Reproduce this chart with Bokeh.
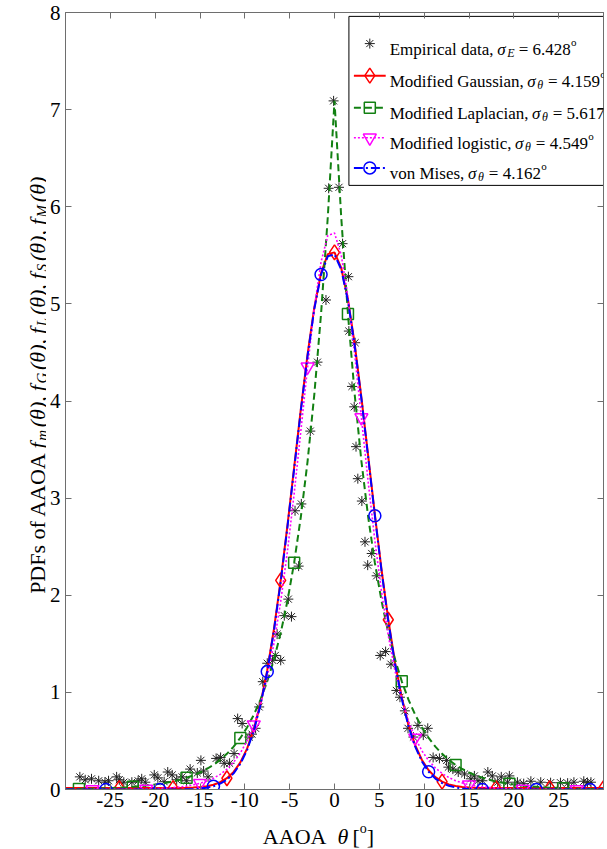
import math
from bokeh.plotting import figure
from bokeh.models import Label, LinearAxis, FixedTicker, Range1d
from bokeh.layouts import row, column
from bokeh.embed import file_html
from bokeh.resources import INLINE

# ---------------- data ----------------
theta = [-30, -29.25, -28.5, -27.75, -27, -26.25, -25.5, -24.75, -24, -23.25,
         -22.5, -21.75, -21, -20.25, -19.5, -18.75, -18, -17.25, -16.5, -15.75,
         -15, -14.25, -13.5, -12.75, -12, -11.25, -10.5, -9.75, -9, -8.25,
         -7.5, -6.75, -6, -5.25, -4.5, -3.75, -3, -2.25, -1.5, -0.75, 0,
         0.75, 1.5, 2.25, 3, 3.75, 4.5, 5.25, 6, 6.75, 7.5,
         8.25, 9, 9.75, 10.5, 11.25, 12, 12.75, 13.5, 14.25, 15,
         15.75, 16.5, 17.25, 18, 18.75, 19.5, 20.25, 21, 21.75, 22.5,
         23.25, 24, 24.75, 25.5, 26.25, 27, 27.75, 28.5, 29.25, 30]

pdf_gaussian = [0.015, 0.015, 0.015, 0.015, 0.015, 0.015, 0.015, 0.015, 0.015, 0.015,
                0.015, 0.015, 0.015, 0.015, 0.015, 0.015, 0.015, 0.015, 0.017, 0.020,
                0.025, 0.034, 0.049, 0.075, 0.116, 0.181, 0.279, 0.421, 0.620, 0.886,
                1.229, 1.654, 2.153, 2.716, 3.316, 3.920, 4.483, 4.963, 5.317, 5.512, 5.530,
                5.370, 5.045, 4.588, 4.037, 3.439, 2.834, 2.262, 1.748, 1.308, 0.949,
                0.667, 0.456, 0.304, 0.198, 0.127, 0.081, 0.053, 0.036, 0.026, 0.021,
                0.018, 0.016, 0.015, 0.015, 0.015, 0.015, 0.015, 0.015, 0.015, 0.015,
                0.015, 0.015, 0.015, 0.015, 0.015, 0.015, 0.015, 0.015, 0.015, 0.015]

pdf_laplacian = [0.004, 0.005, 0.006, 0.008, 0.009, 0.011, 0.013, 0.016, 0.019, 0.023,
                 0.028, 0.033, 0.040, 0.048, 0.058, 0.069, 0.083, 0.100, 0.121, 0.145,
                 0.175, 0.211, 0.253, 0.305, 0.367, 0.441, 0.531, 0.639, 0.769, 0.925,
                 1.114, 1.340, 1.612, 1.940, 2.335, 2.810, 3.381, 4.069, 4.896, 5.892, 7.090,
                 5.892, 4.896, 4.069, 3.381, 2.810, 2.335, 1.940, 1.612, 1.340, 1.114,
                 0.925, 0.769, 0.639, 0.531, 0.441, 0.367, 0.305, 0.253, 0.211, 0.175,
                 0.145, 0.121, 0.100, 0.083, 0.069, 0.058, 0.048, 0.040, 0.033, 0.028,
                 0.023, 0.019, 0.016, 0.013, 0.011, 0.009, 0.008, 0.006, 0.005, 0.004]

pdf_logistic = [0.000, 0.000, 0.000, 0.000, 0.001, 0.001, 0.001, 0.001, 0.002, 0.002,
                0.003, 0.004, 0.006, 0.008, 0.011, 0.014, 0.019, 0.026, 0.035, 0.048,
                0.064, 0.086, 0.116, 0.156, 0.209, 0.281, 0.376, 0.502, 0.667, 0.882,
                1.157, 1.506, 1.936, 2.452, 3.046, 3.694, 4.352, 4.959, 5.431, 5.704, 5.729,
                5.504, 5.065, 4.480, 3.829, 3.172, 2.565, 2.033, 1.585, 1.221, 0.931,
                0.705, 0.531, 0.398, 0.298, 0.222, 0.165, 0.123, 0.091, 0.068, 0.050,
                0.037, 0.028, 0.021, 0.015, 0.011, 0.008, 0.006, 0.005, 0.003, 0.003,
                0.002, 0.001, 0.001, 0.001, 0.001, 0.000, 0.000, 0.000, 0.000, 0.000]

pdf_vonmises = [0.0, 0.0, 0.0, 0.0, 0.0, 0.0, 0.0, 0.0, 0.0, 0.0,
                0.0, 0.0, 0.0, 0.0, 0.0, 0.0, 0.0, 0.0, 0.002, 0.005,
                0.010, 0.019, 0.034, 0.060, 0.101, 0.166, 0.264, 0.406, 0.605, 0.871,
                1.214, 1.639, 2.138, 2.701, 3.301, 3.905, 4.468, 4.948, 5.302, 5.490, 5.510,
                5.355, 5.030, 4.573, 4.022, 3.424, 2.819, 2.247, 1.733, 1.293, 0.934,
                0.652, 0.441, 0.289, 0.183, 0.112, 0.066, 0.038, 0.021, 0.011, 0.006,
                0.003, 0.001, 0.0, 0.0, 0.0, 0.0, 0.0, 0.0, 0.0, 0.0,
                0.0, 0.0, 0.0, 0.0, 0.0, 0.0, 0.0, 0.0, 0.0, 0.0]

marker_theta_gaussian = [-24, -18, -12, -6, 0, 6, 12, 18, 24, 30]
marker_theta_laplacian = [-28.5, -22.5, -16.5, -10.5, -4.5, 1.5, 7.5, 13.5, 19.5, 25.5]
marker_theta_logistic = [-27, -21, -15, -9, -3, 3, 9, 15, 21, 27]
marker_theta_vonmises = [-25.5, -19.5, -13.5, -7.5, -1.5, 4.5, 10.5, 16.5, 22.5, 28.5]

emp_theta = [-28.4, -27.8, -27.1, -26.3, -25.6, -25.2, -24.3, -24.0, -23.5, -22.6,
             -21.9, -21.5, -21.1, -20.1, -19.7, -19.0, -18.6, -18.1, -17.6, -17.0,
             -16.5, -16.1, -15.3, -14.9, -14.6, -14.1, -13.2, -12.7, -12.3, -11.7,
             -11.2, -10.8, -10.3, -9.5, -9.2, -8.8, -8.4, -8.0, -7.5, -6.9,
             -6.6, -6.4, -6.0, -5.6, -5.15, -4.8, -4.4, -4.0, -3.7, -2.7,
             -1.9, -0.95, -0.65, -0.1, 0.5, 0.9, 1.55, 1.6, 1.95, 2.2,
             2.3, 2.4, 2.6, 3.05, 3.4, 3.7, 4.15, 4.7, 5.1, 5.7,
             6.3, 6.9, 7.3, 7.85, 8.2, 8.8, 9.3, 9.9, 10.4, 11.0,
             11.7, 12.5, 12.7, 13.2, 13.8, 14.5, 15.2, 15.6, 16.0, 16.5,
             17.1, 17.6, 18.2, 18.6, 19.3, 19.5, 20.4, 21.1, 21.9, 23.0,
             24.1, 25.2, 26.0, 26.7, 27.8, 28.2, 28.6]
emp_pdf = [0.13, 0.10, 0.11, 0.09, 0.075, 0.09, 0.13, 0.10, 0.075, 0.075,
           0.09, 0.11, 0.075, 0.15, 0.12, 0.08, 0.18, 0.15, 0.10, 0.13,
           0.09, 0.21, 0.17, 0.30, 0.19, 0.13, 0.32, 0.33, 0.27, 0.27,
           0.37, 0.73, 0.68, 0.54, 0.57, 0.63, 0.85, 1.11, 1.30, 1.33,
           1.38, 1.60, 1.33, 1.79, 1.96, 1.78, 2.87, 2.30, 2.94, 3.69,
           4.40, 5.04, 6.19, 7.09, 6.20, 5.62, 5.28, 4.72, 4.15, 3.94,
           4.60, 3.53, 3.20, 2.97, 2.55, 2.31, 2.43, 2.20, 1.38, 1.42,
           1.29, 1.02, 0.95, 0.81, 0.63, 0.54, 0.66, 0.56, 0.63, 0.33,
           0.32, 0.30, 0.23, 0.21, 0.18, 0.16, 0.11, 0.14, 0.09, 0.09,
           0.18, 0.14, 0.075, 0.13, 0.075, 0.14, 0.075, 0.06, 0.085, 0.075,
           0.07, 0.07, 0.065, 0.075, 0.085, 0.07, 0.075]

x_ticks = [-25, -20, -15, -10, -5, 0, 5, 10, 15, 20, 25]
x_tick_labels = ["-25", "-20", "-15", "-10", "-5", "0", "5", "10", "15", "20", "25"]
y_ticks = [0, 1, 2, 3, 4, 5, 6, 7, 8]
y_tick_labels = ["0", "1", "2", "3", "4", "5", "6", "7", "8"]

legend_prefix = ["Empirical data, ", "Modified Gaussian, ", "Modified Laplacian, ",
                 "Modified logistic, ", "von Mises, "]
legend_sub = ["E", "\u03b8", "\u03b8", "\u03b8", "\u03b8"]
legend_value = ["6.428", "4.159", "5.617", "4.549", "4.162"]

# ---------------- layout (pixels) ----------------
PAGE_W, PAGE_H = 607, 849
YL_W = 46                      # strip holding the rotated y label
MAIN_W = PAGE_W - YL_W
ML, MR, MT, MB = 16, 4, 12, 28
FW, FH = MAIN_W - ML - MR, 777
MAIN_H = MT + FH + MB
XL_H = PAGE_H - MAIN_H         # strip holding the x label
XS = FW / 60.0
YS = FH / 8.0
FONT = "Liberation Serif"
AXIS_GRAY = "#6e6e6e"

REG = {' ': 250, '(': 333, ')': 333, ',': 250, '-': 333, '.': 250, '=': 564,
       '[': 333, ']': 333, 'A': 722, 'D': 722, 'E': 611, 'F': 556, 'G': 722,
       'L': 611, 'M': 889, 'O': 722, 'P': 556, 'S': 556,
       'a': 444, 'c': 444, 'd': 500, 'e': 444, 'f': 333, 'g': 500, 'i': 278,
       'l': 278, 'm': 778, 'n': 500, 'o': 500, 'p': 500, 'r': 333, 's': 389,
       't': 278, 'u': 500, 'v': 500}
ITA = {' ': 250, '(': 333, ')': 333, ',': 250, 'f': 278, 'm': 722, 'E': 611,
       'G': 722, 'L': 556, 'S': 500, 'M': 833, '\u03b8': 550, '\u03c3': 560}


def tw(s, size, italic=False):
    tab = ITA if italic else REG
    return sum(tab.get(ch, 500) for ch in s) * size / 1000.0


def lab(fig, x, y, text, size, italic=False, angle=0.0):
    fig.add_layout(Label(x=x, y=y, text=text, text_font=FONT,
                         text_font_size=f"{size}px",
                         text_font_style="italic" if italic else "normal",
                         text_baseline="alphabetic", text_align="left",
                         angle=angle, text_color="black"))


def blank(w, h):
    f = figure(width=w, height=h, x_range=Range1d(0, w), y_range=Range1d(0, h),
               output_backend="svg", toolbar_location=None, min_border=0,
               x_axis_type=None, y_axis_type=None)
    f.outline_line_color = None
    f.background_fill_color = "white"
    f.border_fill_color = "white"
    return f


p = figure(width=MAIN_W, height=MAIN_H, x_range=Range1d(-30, 30), y_range=Range1d(0, 8),
           output_backend="svg", toolbar_location=None,
           min_border_left=ML, min_border_right=MR, min_border_top=MT,
           min_border_bottom=MB)
p.grid.visible = False
p.outline_line_color = AXIS_GRAY
p.background_fill_color = "white"
p.border_fill_color = "white"


def style_axis(ax, ticks, labels, show):
    ax.ticker = FixedTicker(ticks=ticks)
    ax.major_label_overrides = {t: l for t, l in zip(ticks, labels)}
    ax.major_tick_in = 6
    ax.major_tick_out = 0
    ax.minor_tick_line_color = None
    ax.axis_line_color = AXIS_GRAY
    ax.major_tick_line_color = AXIS_GRAY
    ax.major_label_text_font = FONT
    ax.major_label_text_color = "black"
    if show:
        ax.major_label_text_font_size = "21px"
    else:
        ax.major_label_text_font_size = "0px"
        ax.major_label_standoff = 0


style_axis(p.xaxis[0], x_ticks, x_tick_labels, True)
p.xaxis[0].major_label_standoff = 3
style_axis(p.yaxis[0], y_ticks, y_tick_labels, True)
p.yaxis[0].major_label_standoff = 5

top = LinearAxis()
style_axis(top, x_ticks, ["" for _ in x_ticks], False)
p.add_layout(top, "above")
right = LinearAxis()
style_axis(right, y_ticks, ["" for _ in y_ticks], False)
p.add_layout(right, "right")

# ---------------- data marks ----------------
p.scatter(emp_theta, emp_pdf, marker="asterisk", size=10, line_color="#222222",
          line_width=1)

RED, GREEN, MAG, BLUE = "#ff0000", "#128012", "#ff00ff", "#0000ff"
styles = [
    (pdf_gaussian, marker_theta_gaussian, RED, "solid", 2.0, "diamond", 15),
    (pdf_laplacian, marker_theta_laplacian, GREEN, "7 4", 2.0, "square", 11),
    (pdf_logistic, marker_theta_logistic, MAG, "2 2", 1.6, "inverted_triangle", 13),
    (pdf_vonmises, marker_theta_vonmises, BLUE, "9 3 2 3", 2.0, "circle", 12),
]
for ys, mt, col, dash, lw, mk, ms in styles:
    p.line(theta, ys, line_color=col, line_width=lw, line_dash=dash)
    idx = [theta.index(t) for t in mt]
    p.scatter([theta[i] for i in idx], [ys[i] for i in idx], marker=mk, size=ms,
              line_color=col, fill_color=None, line_width=1.5)

# ---------------- legend (drawn by hand to allow sub/superscripts) ----------------
leg_left = -30 + (347 - 62) / XS
row_y = [7.68, 7.35, 7.02, 6.71, 6.40]
p.quad(left=[leg_left], right=[30], top=[7.96], bottom=[6.22], fill_color="white",
       line_color="black", line_width=1)
s0 = leg_left + 5 / XS
s1 = s0 + 32 / XS
smid = (s0 + s1) / 2
text_x = s1 + 4 / XS

p.scatter([smid], [row_y[0]], marker="asterisk", size=10, line_color="#222222",
          line_width=1)
for k, (ys, mt, col, dash, lw, mk, ms) in enumerate(styles):
    yy = row_y[k + 1]
    p.line([s0, s1], [yy, yy], line_color=col, line_width=lw, line_dash=dash)
    p.scatter([smid], [yy], marker=mk, size=ms, line_color=col, fill_color=None,
              line_width=1.5)

for k in range(5):
    base = row_y[k] - 5.5 / YS
    cx = 0.0
    lab(p, text_x + cx / XS, base, legend_prefix[k].rstrip(), 17)
    cx += tw(legend_prefix[k], 17)
    lab(p, text_x + cx / XS, base, "\u03c3", 17, True)
    cx += tw("\u03c3", 17, True) + 0.5
    lab(p, text_x + cx / XS, base - 4 / YS, legend_sub[k], 12, True)
    cx += tw(legend_sub[k], 12, True) + tw(" ", 17)
    val = "= " + legend_value[k]
    lab(p, text_x + cx / XS, base, val, 17)
    cx += tw(val, 17) + 0.5
    lab(p, text_x + cx / XS, base + 7 / YS, "o", 11)

# ---------------- x axis label strip: AAOA  θ [°] ----------------
xl = blank(PAGE_W, XL_H)
xl_pieces = [("AAOA", 22, False, 0), ("  ", 22, False, 0), ("\u03b8", 22, True, 0),
             ("[", 22, False, 0), ("o", 14, False, 8), ("]", 22, False, 0)]
gap_after_theta = 3
total = sum(tw(t, s, it) for t, s, it, _ in xl_pieces) + gap_after_theta
cx = 318 - total / 2
xl_base = PAGE_H - 836          # baseline, in strip pixels from its bottom
for t, s, it, rise in xl_pieces:
    if t.strip():
        lab(xl, cx, xl_base + rise, t, s, it)
    cx += tw(t, s, it)
    if t == "\u03b8":
        cx += gap_after_theta

# ---------------- y axis label strip (rotated) ----------------
yl = blank(YL_W, MAIN_H)
yl_base_x = 36.5
yl_pieces = [("PDFs of AAOA", 22, False, 0, 0), ("  ", 22, False, 0, 0)]
subs = ["m", "G", "L", "S", "M"]
for j, sb in enumerate(subs):
    yl_pieces.append(("f", 22, True, 0, 2.0))
    yl_pieces.append((sb, 15, True, 5, 3.5))
    yl_pieces.append(("(\u03b8)" + ("," if j < 4 else ""), 22, True, 0,
                      tw(" ", 22) if j < 4 else 0))
total = sum(tw(t, s, it) + extra for t, s, it, _, extra in yl_pieces)
center = MAIN_H - 392
cy = center - total / 2
for t, s, it, drop, extra in yl_pieces:
    if t.strip():
        lab(yl, yl_base_x + drop, cy, t, s, it, angle=math.pi / 2)
    cy += tw(t, s, it) + extra

layout = column(row(yl, p), xl)
open("out.html", "w").write(file_html(layout, INLINE))
